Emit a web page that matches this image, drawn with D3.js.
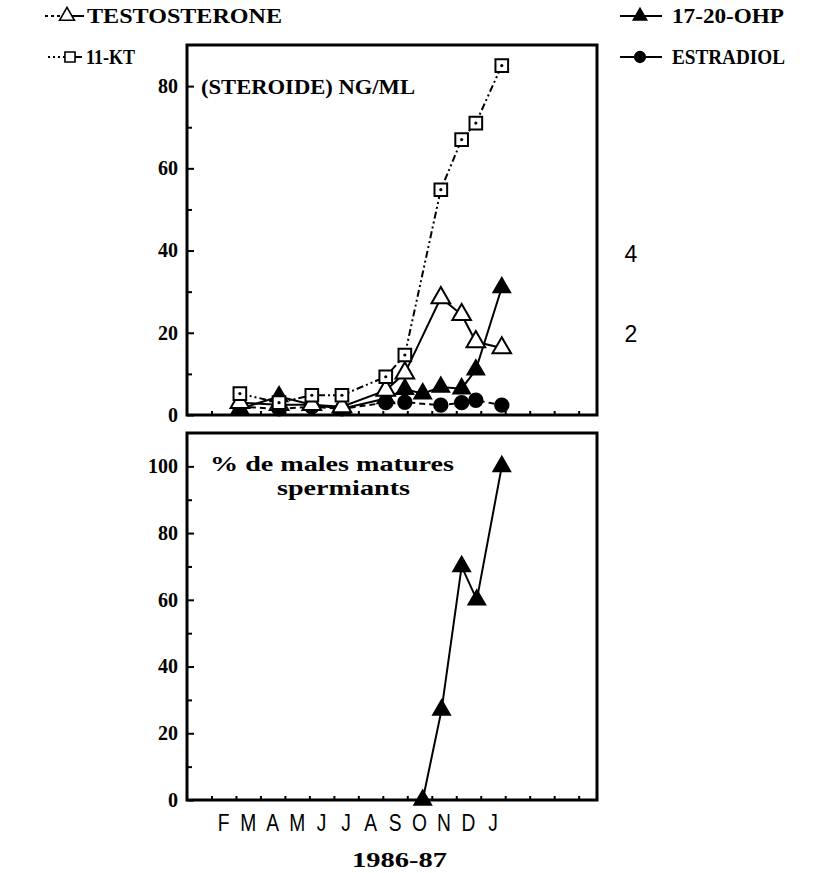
<!DOCTYPE html>
<html>
<head>
<meta charset="utf-8">
<script src="https://cdn.jsdelivr.net/npm/d3@7"></script>
<style>
  html, body { margin: 0; padding: 0; background: #fff; }
  svg { display: block; }
</style>
</head>
<body>
<svg id="chart" width="824" height="873"></svg>
<script>
// Sampling dates, expressed as months since 1 January 1986
const sampleMonth = [2.16, 3.76, 5.1, 6.33, 8.12, 8.9, 9.63, 10.37, 11.22, 11.8, 12.86];

// Plasma steroid levels (ng/ml); null = not measured on that date
const testosterone = [3, 2.5, 2.5, 2, 6, 10.2, null, 28.5, 24.4, 17.8, 16.3];
const ketoT11      = [5.2, 3, 4.8, 4.8, 9.3, 14.6, null, 54.8, 67, 71, 85];
const ohp1720      = [1.5, 4.5, 2.5, 1.5, 4, 6.3, 5.2, 6.8, 6.4, 11, 31];
const estradiol    = [2, 1.5, 2, 1.5, 3, 3.1, null, 2.4, 3, 3.6, 2.4];

// Percentage of spermiating mature males
const spermMonth = [9.63, 10.4, 11.22, 11.84, 12.86];
const spermPct   = [0, 27, 70, 60, 100];

// Axis labels
const monthLabels = ["F", "M", "A", "M", "J", "J", "A", "S", "O", "N", "D", "J"];
const steroidTicks = [0, 20, 40, 60, 80];
const steroidMinor = [10, 30, 50, 70];
const pctTicks = [0, 20, 40, 60, 80, 100];
const pctMinor = [10, 30, 50, 70, 90];

const svg = d3.select("#chart");
const serif = "'Liberation Serif', 'DejaVu Serif', serif";
const sans = "'Liberation Sans', Arial, sans-serif";

const left = 187, right = 597;
const x = d3.scaleLinear().domain([0, 16.75]).range([left, right]);
const yTop = d3.scaleLinear().domain([0, 90]).range([415, 45]);
const yBot = d3.scaleLinear().domain([0, 110]).range([800, 433]);

function panel(y, major, minor) {
  const [y0, y1] = y.range();
  // month ticks along the bottom edge, pointing inward
  svg.append("g")
    .attr("transform", `translate(0,${y0})`)
    .call(d3.axisBottom(x).tickValues(d3.range(1, 17)).tickSize(-4).tickFormat(""))
    .call(g => g.select(".domain").remove())
    .selectAll("line").attr("stroke", "#000").attr("stroke-width", 2);
  // minor value ticks
  svg.append("g")
    .attr("transform", `translate(${left},0)`)
    .call(d3.axisLeft(y).tickValues(minor).tickSize(-5).tickFormat(""))
    .call(g => g.select(".domain").remove())
    .selectAll("line").attr("stroke", "#000").attr("stroke-width", 2);
  // labelled value ticks
  const g = svg.append("g")
    .attr("transform", `translate(${left},0)`)
    .call(d3.axisLeft(y).tickValues(major).tickSize(-7).tickPadding(9));
  g.select(".domain").remove();
  g.selectAll("line").attr("stroke", "#000").attr("stroke-width", 2);
  g.selectAll("text")
    .attr("fill", "#000")
    .style("font-family", serif)
    .style("font-weight", "bold")
    .style("font-size", "20px");
  // frame
  svg.append("rect")
    .attr("x", left).attr("y", y1)
    .attr("width", right - left).attr("height", y0 - y1)
    .attr("fill", "none").attr("stroke", "#000").attr("stroke-width", 3);
}

panel(yTop, steroidTicks, steroidMinor);
panel(yBot, pctTicks, pctMinor);

const sym = {
  tri: d3.symbol().type(d3.symbolTriangle).size(150),
  triSmall: d3.symbol().type(d3.symbolTriangle).size(120),
  square: d3.symbol().type(d3.symbolSquare).size(160),
  circle: d3.symbol().type(d3.symbolCircle).size(140)
};

function series(values, months, y, dash, marker, fill) {
  const pts = months.map((m, i) => ({ m, v: values[i] })).filter(d => d.v != null);
  const line = d3.line().x(d => x(d.m)).y(d => y(d.v));
  svg.append("path")
    .datum(pts)
    .attr("d", line)
    .attr("fill", "none")
    .attr("stroke", "#000")
    .attr("stroke-width", 2)
    .attr("stroke-dasharray", dash);
  const g = svg.append("g");
  g.selectAll("path").data(pts).join("path")
    .attr("d", marker)
    .attr("transform", d => `translate(${x(d.m)},${y(d.v)})`)
    .attr("fill", fill)
    .attr("stroke", "#000")
    .attr("stroke-width", 2);
  return { g, pts };
}

// steroid series
series(estradiol, sampleMonth, yTop, "6,4", sym.circle, "#000");
series(ohp1720, sampleMonth, yTop, null, sym.triSmall, "#000");
series(testosterone, sampleMonth, yTop, null, sym.tri, "#fff");
const kt = series(ketoT11, sampleMonth, yTop, "7,3,2,3,2,3", sym.square, "#fff");
kt.g.selectAll("circle").data(kt.pts).join("circle")
  .attr("cx", d => x(d.m)).attr("cy", d => yTop(d.v)).attr("r", 1.6).attr("fill", "#000");

// spermiation series
series(spermPct, spermMonth, yBot, null, sym.triSmall, "#000");

// panel annotations
svg.append("text")
  .attr("x", 201).attr("y", 94)
  .attr("textLength", 214).attr("lengthAdjust", "spacingAndGlyphs")
  .style("font-family", serif).style("font-weight", "bold").style("font-size", "20px")
  .text("(STEROIDE) NG/ML");

svg.append("text")
  .attr("x", 210).attr("y", 471)
  .attr("textLength", 244).attr("lengthAdjust", "spacingAndGlyphs")
  .style("font-family", serif).style("font-weight", "bold").style("font-size", "20px")
  .text("% de males matures");
svg.append("text")
  .attr("x", 277).attr("y", 495)
  .attr("textLength", 133).attr("lengthAdjust", "spacingAndGlyphs")
  .style("font-family", serif).style("font-weight", "bold").style("font-size", "20px")
  .text("spermiants");

// month letters under the lower panel
svg.append("g").selectAll("text").data(monthLabels).join("text")
  .attr("transform", (d, i) => `translate(${x(i + 1.5)},831) scale(0.8,1)`)
  .attr("text-anchor", "middle")
  .style("font-family", sans).style("font-size", "24px")
  .text(d => d);

svg.append("text")
  .attr("x", 352).attr("y", 867)
  .attr("textLength", 95).attr("lengthAdjust", "spacingAndGlyphs")
  .style("font-family", serif).style("font-weight", "bold").style("font-size", "21px")
  .text("1986-87");

// stray numerals on the right margin
svg.append("text").attr("x", 631).attr("y", 262).attr("text-anchor", "middle")
  .style("font-family", sans).style("font-size", "23px").text("4");
svg.append("text").attr("x", 631).attr("y", 342).attr("text-anchor", "middle")
  .style("font-family", sans).style("font-size", "23px").text("2");

// legend
const legendItems = [
  { label: "TESTOSTERONE", lx: 45, mx: 67, rx: 84, y: 16, tx: 87, tw: 195, dash: "3,3", marker: sym.tri, fill: "#fff" },
  { label: "11-KT", lx: 48, mx: 70, rx: 82, y: 57, tx: 86, tw: 49, dash: "2,3", marker: sym.square, fill: "#fff" },
  { label: "17-20-OHP", lx: 620, mx: 640, rx: 662, y: 16, tx: 672, tw: 112, dash: null, marker: sym.triSmall, fill: "#000" },
  { label: "ESTRADIOL", lx: 620, mx: 640, rx: 662, y: 57, tx: 672, tw: 113, dash: null, marker: sym.circle, fill: "#000" }
];
const lg = svg.append("g").selectAll("g").data(legendItems).join("g");
lg.append("line")
  .attr("x1", d => d.lx).attr("x2", d => d.mx).attr("y1", d => d.y).attr("y2", d => d.y)
  .attr("stroke", "#000").attr("stroke-width", 2).attr("stroke-dasharray", d => d.dash);
lg.append("line")
  .attr("x1", d => d.mx).attr("x2", d => d.rx).attr("y1", d => d.y).attr("y2", d => d.y)
  .attr("stroke", "#000").attr("stroke-width", 2);
lg.append("path")
  .attr("d", d => d.marker())
  .attr("transform", d => `translate(${d.mx},${d.y}) scale(0.8)`)
  .attr("fill", d => d.fill).attr("stroke", "#000").attr("stroke-width", 2);
lg.append("text")
  .attr("x", d => d.tx).attr("y", d => d.y + 7)
  .attr("textLength", d => d.tw).attr("lengthAdjust", "spacingAndGlyphs")
  .style("font-family", serif).style("font-weight", "bold").style("font-size", "20px")
  .text(d => d.label);
</script>
</body>
</html>
